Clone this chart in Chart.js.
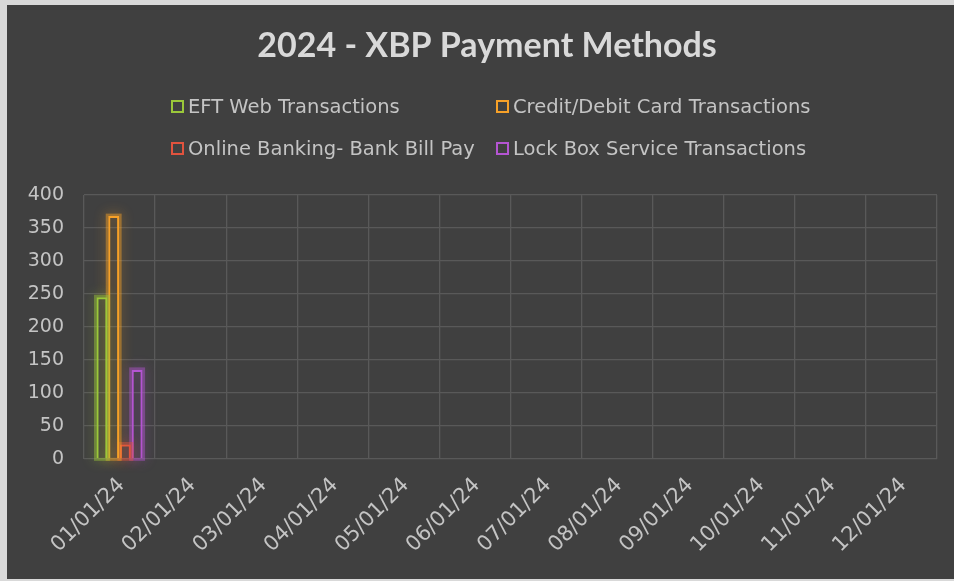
<!DOCTYPE html>
<html>
<head>
<meta charset="utf-8">
<script src="https://cdn.jsdelivr.net/npm/chart.js@4/dist/chart.umd.min.js"></script>
<style>
  html, body { margin: 0; padding: 0; background: #d9d9d9; width: 954px; height: 581px; overflow: hidden; }
  #wrap { position: absolute; left: 7px; top: 5px; width: 947px; height: 574px; background: #404040; }
  canvas { display: block; }
</style>
</head>
<body>
<div id="wrap"><canvas id="c" width="947" height="574"></canvas></div>
<script>
// ---- data ----
const chartTitle = "2024 - XBP Payment Methods";
const categories = ["01/01/24","02/01/24","03/01/24","04/01/24","05/01/24","06/01/24","07/01/24","08/01/24","09/01/24","10/01/24","11/01/24","12/01/24"];
const seriesNames = ["EFT Web Transactions", "Credit/Debit Card Transactions", "Online Banking- Bank Bill Pay", "Lock Box Service Transactions"];
const eftWeb      = [245, null, null, null, null, null, null, null, null, null, null, null];
const creditDebit = [368, null, null, null, null, null, null, null, null, null, null, null];
const onlineBank  = [22,  null, null, null, null, null, null, null, null, null, null, null];
const lockBox     = [135, null, null, null, null, null, null, null, null, null, null, null];
const yTicks = [0, 50, 100, 150, 200, 250, 300, 350, 400];

const colors = ["#9BC83A", "#F7A128", "#E1533E", "#B455D2"];
const FONT = "'DejaVu Sans', sans-serif";

function hexA(hex, a) {
  const n = parseInt(hex.slice(1), 16);
  return `rgba(${(n>>16)&255},${(n>>8)&255},${n&255},${a})`;
}

const glowPlugin = {
  id: 'glow',
  beforeDatasetDraw(chart, args) {
    const ctx = chart.ctx;
    const ds = chart.data.datasets[args.index];
    const col = ds.borderColor;
    ctx.save();
    args.meta.data.forEach((el, i) => {
      if (ds.data[i] == null) return;
      const p = el.getProps(['x','y','base','width'], true);
      const left = p.x - p.width/2, top = Math.min(p.y, p.base), h = Math.abs(p.base - p.y);
      ctx.shadowColor = hexA(col, 1);
      ctx.shadowBlur = 12;
      ctx.strokeStyle = hexA(col, 0.45);
      ctx.lineWidth = 3;
      ctx.strokeRect(left - 1, top - 1, p.width + 2, h + 2);
    });
    ctx.restore();
  }
};

const headerPlugin = {
  id: 'header',
  afterDraw(chart) {
    const ctx = chart.ctx;
    ctx.save();
    ctx.fillStyle = '#d9d9d9';
    ctx.font = "bold 34px Lato, sans-serif";
    ctx.textAlign = 'center';
    ctx.textBaseline = 'alphabetic';
    ctx.fillText(chartTitle, 480, 52);
    // legend 2x2
    const colX = [164, 489];
    const rowY = [102, 144];
    ctx.font = "19.5px " + FONT;
    ctx.textAlign = 'left';
    ctx.textBaseline = 'middle';
    chart.data.datasets.forEach((ds, i) => {
      const x = colX[i % 2], y = rowY[Math.floor(i / 2)];
      ctx.strokeStyle = ds.borderColor;
      ctx.lineWidth = 2;
      ctx.strokeRect(x + 1, y - 6, 11, 11);
      ctx.fillStyle = '#c4c4c4';
      ctx.fillText(ds.label, x + 17, y + 1);
    });
    ctx.restore();
  }
};

const mk = (i, data) => ({
  label: seriesNames[i],
  data: data,
  borderColor: colors[i],
  backgroundColor: 'rgba(0,0,0,0)',
  borderWidth: 2,
  categoryPercentage: 0.66,
  barPercentage: 0.93
});

new Chart(document.getElementById('c'), {
  type: 'bar',
  data: {
    labels: categories,
    datasets: [mk(0, eftWeb), mk(1, creditDebit), mk(2, onlineBank), mk(3, lockBox)]
  },
  options: {
    responsive: false,
    animation: false,
    devicePixelRatio: 1,
    layout: { padding: { top: 190, right: 17, bottom: 0, left: 0 } },
    plugins: { legend: { display: false }, title: { display: false }, tooltip: { enabled: false } },
    scales: {
      x: {
        grid: { color: '#595959', lineWidth: 1.3, drawTicks: false, offset: true },
        border: { display: false },
        ticks: { color: '#c4c4c4', font: { family: FONT, size: 21 }, minRotation: 45, maxRotation: 45, padding: 14, labelOffset: 2, autoSkip: false },
        afterFit(s) { s.height = 120; }
      },
      y: {
        min: 0, max: 400,
        afterBuildTicks(s) { s.ticks = yTicks.map(v => ({ value: v })); },
        grid: { color: '#595959', lineWidth: 1.3, drawTicks: false },
        border: { display: false },
        ticks: { color: '#c4c4c4', font: { family: FONT, size: 19 }, padding: 20 },
        afterFit(s) { s.width = 77; }
      }
    }
  },
  plugins: [glowPlugin, headerPlugin]
});
</script>
</body>
</html>
